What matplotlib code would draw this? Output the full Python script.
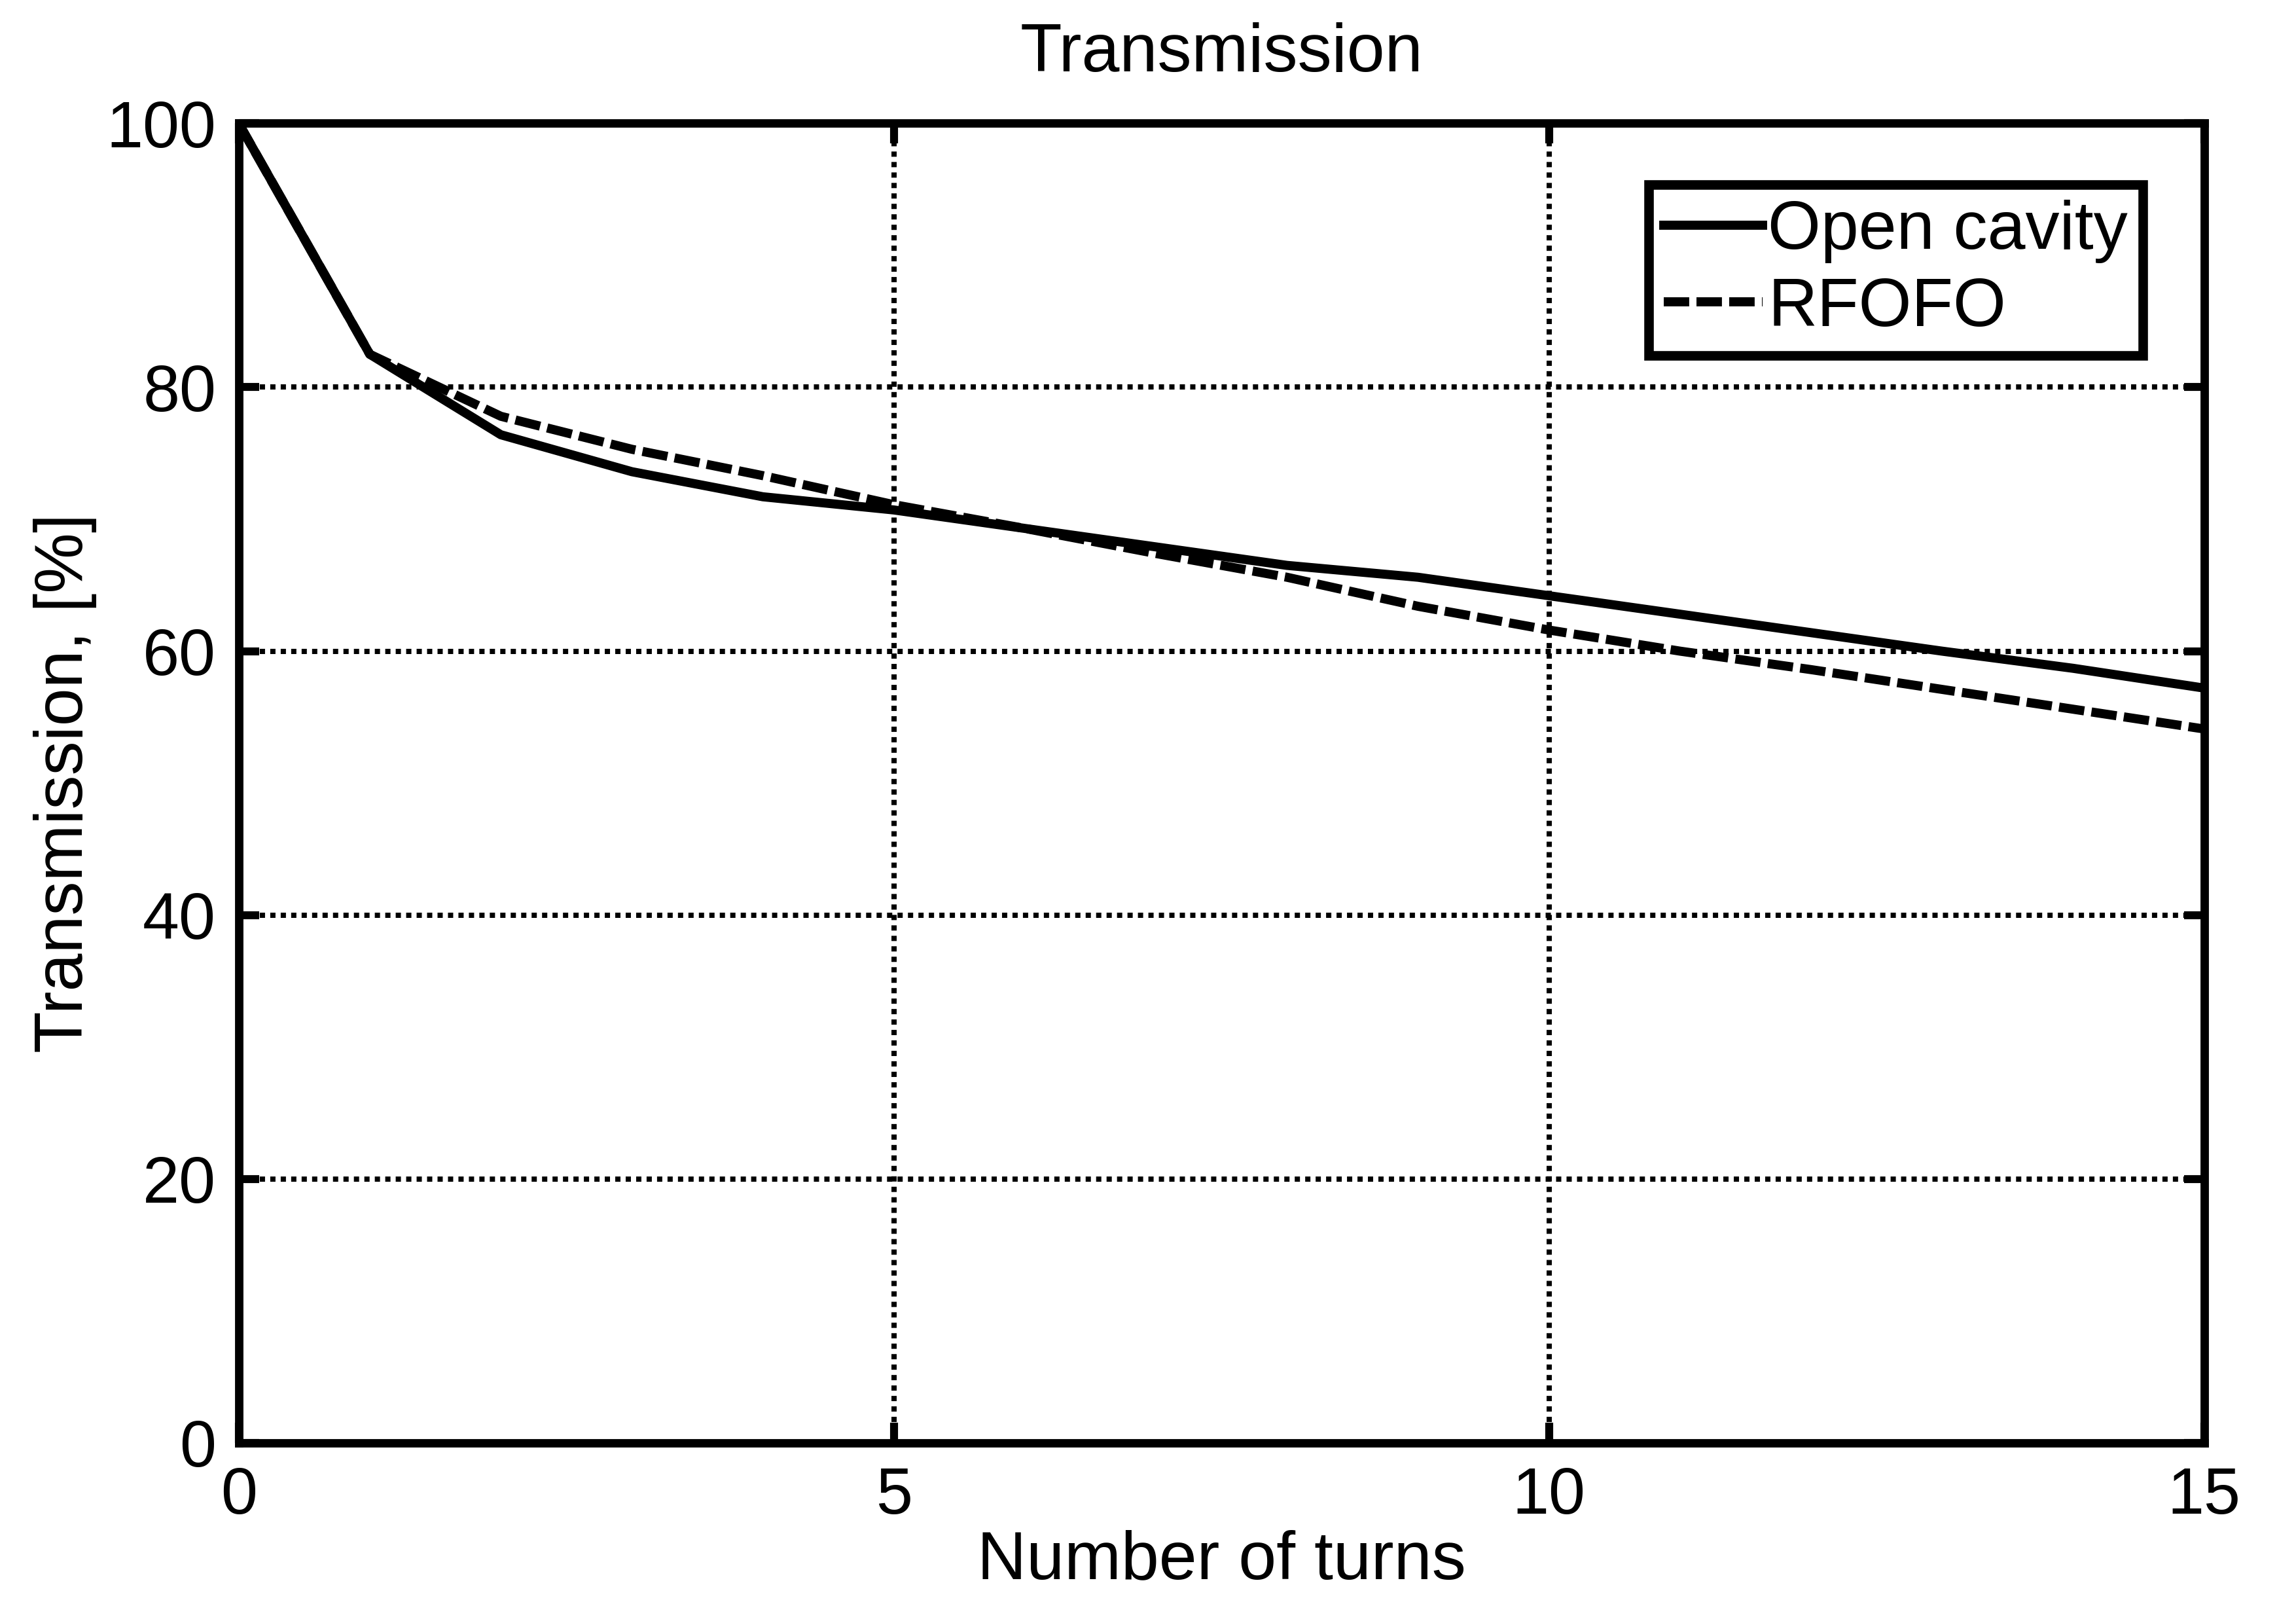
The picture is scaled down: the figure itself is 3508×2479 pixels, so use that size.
import matplotlib
matplotlib.use("Agg")
import matplotlib.pyplot as plt

# turns and transmission (%)
turns = [0, 1, 2, 3, 4, 5, 6, 7, 8, 9, 10, 11, 12, 13, 14, 15]
open_cavity = [100, 82.5, 76.4, 73.6, 71.7, 70.7, 69.3, 67.9, 66.5, 65.6,
               64.2, 62.8, 61.4, 60.0, 58.7, 57.2]
rfofo = [100, 82.5, 77.8, 75.3, 73.3, 71.1, 69.3, 67.4, 65.6, 63.4,
         61.6, 60.0, 58.6, 57.1, 55.6, 54.1]

xticks = [0, 5, 10, 15]
yticks = [0, 20, 40, 60, 80, 100]

plt.rcParams["font.family"] = ["Liberation Sans", "DejaVu Sans"]
FS = 29

fig = plt.figure(figsize=(3508 / 250, 2479 / 250), dpi=250)
ax = fig.add_axes([0.104, 0.111, 0.856, 0.813])

ax.plot(turns, open_cavity, color="black", lw=4.0, ls="-", label="Open cavity")
ax.plot(turns, rfofo, color="black", lw=4.0, ls=(0, (2.8, 0.8)), label="RFOFO")

ax.set_xlim(0, 15)
ax.set_ylim(0, 100)
ax.set_xticks(xticks)
ax.set_yticks(yticks)
ax.grid(True, color="black", ls=(0, (1, 1)), lw=2.3)
ax.tick_params(direction="in", length=9, width=3.5, top=True, right=True,
               labelsize=FS, pad=10)
for s in ax.spines.values():
    s.set_linewidth(3.7)

ax.set_title("Transmission", fontsize=30, pad=23)
ax.set_xlabel("Number of turns", fontsize=30, labelpad=1)
ax.set_ylabel("Transmission, [%]", fontsize=30, labelpad=4)

leg = ax.legend(loc="upper right", fontsize=30, frameon=True, fancybox=False,
                handlelength=1.45, handletextpad=0.08, borderpad=0.22,
                labelspacing=0.2, borderaxespad=0.9)
leg.get_frame().set_edgecolor("black")
leg.get_frame().set_linewidth(4.2)
leg.get_frame().set_alpha(1)

fig.savefig("out.png", dpi=250, facecolor="white")
